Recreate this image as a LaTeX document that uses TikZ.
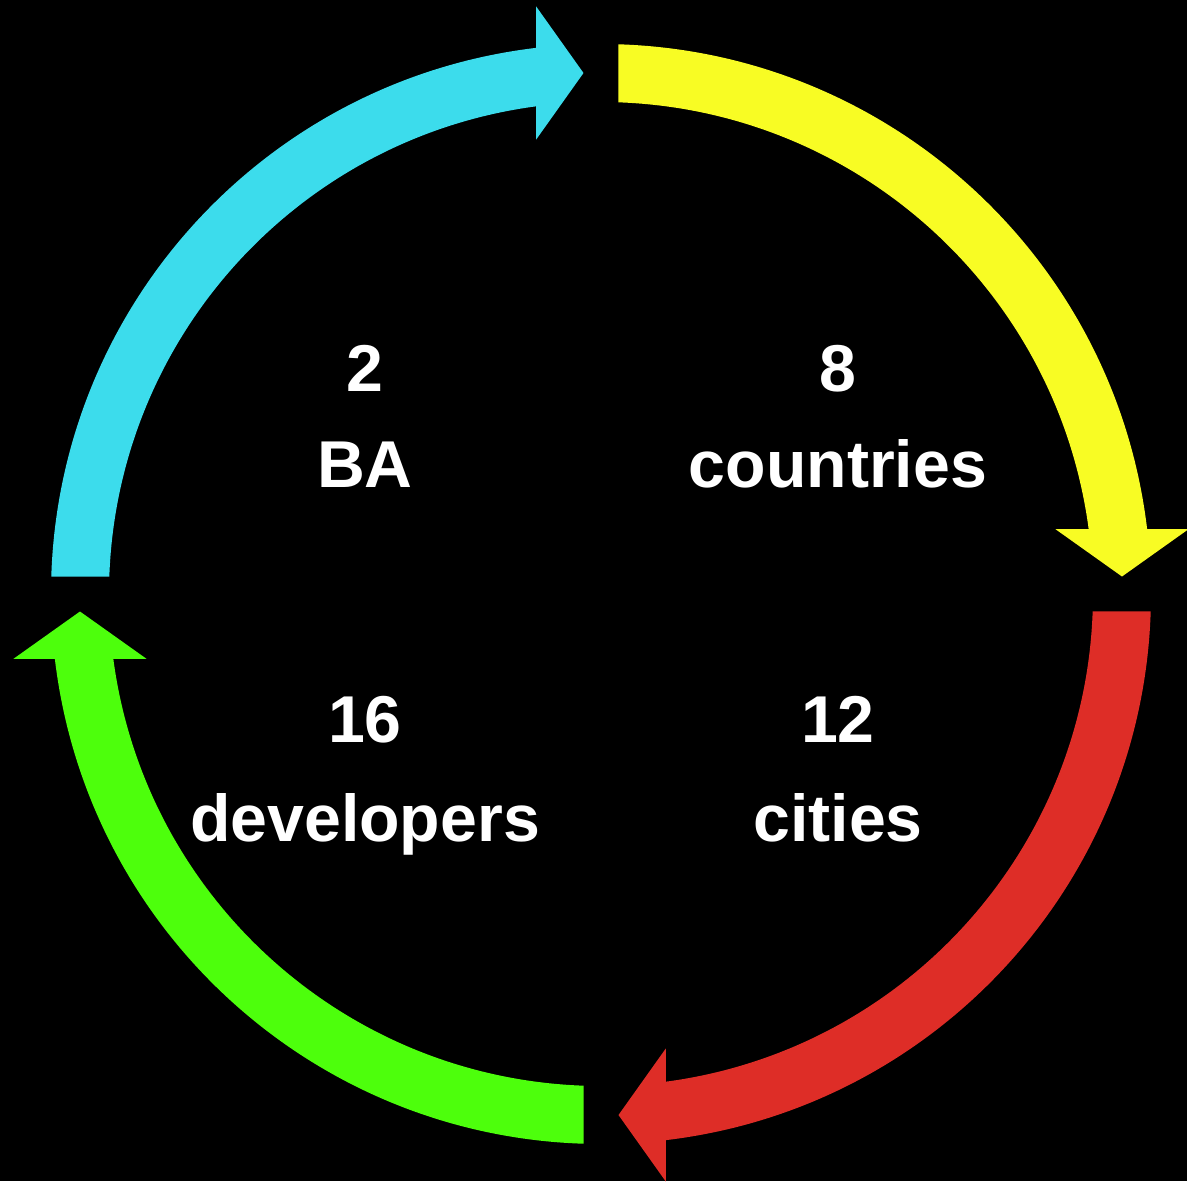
\documentclass[tikz,border=0pt]{standalone}
\usepackage{fontspec}
\setmainfont{Liberation Sans}
\definecolor{ccyan}{HTML}{3CDCEC}
\definecolor{cyellow}{HTML}{F8FC24}
\definecolor{cred}{HTML}{DE2D27}
\definecolor{cgreen}{HTML}{4DFF0C}
\begin{document}
\begin{tikzpicture}[x=0.02cm,y=0.02cm,
  lbl/.style={text=white,font=\fontsize{37.7}{44}\selectfont\bfseries,inner sep=0pt,anchor=base}]
\fill[black] (-601,594) rectangle (586,-587);
\useasboundingbox (-601,594) rectangle (586,-587);
\foreach \rot/\col in {0/ccyan,-90/cyellow,-180/cred,-270/cgreen}{
  \fill[\col, rotate=\rot] (178.177:550) arc[start angle=178.177,end angle=96.766,radius=550]
     -- (-64.8,587.5) -- (-17.5,521) -- (-64.8,454.5)
     -- (97.568:492) arc[start angle=97.568,end angle=177.962,radius=492] -- cycle;
}
\node[lbl] (n2) at (-236,203) {2};
\node[lbl] (ba) at (-236,107) {BA};
\node[lbl] (n8) at (237,203) {8};
\node[lbl] (countries) at (237,107) {countries};
\node[lbl] (n16) at (-236,-148) {16};
\node[lbl] (dev) at (-236,-247) {developers};
\node[lbl] (n12) at (237,-148) {12};
\node[lbl] (cities) at (237,-247) {cities};
\end{tikzpicture}
\end{document}
